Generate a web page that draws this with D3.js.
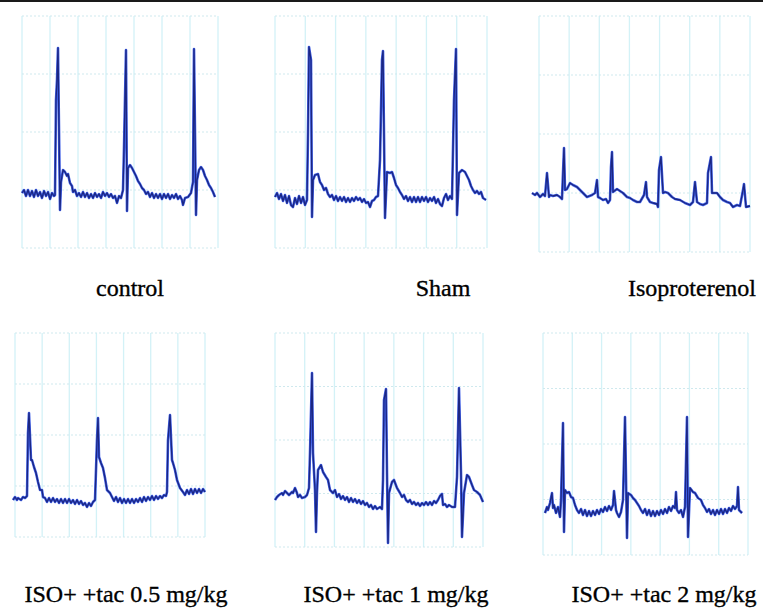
<!DOCTYPE html>
<html>
<head>
<meta charset="utf-8">
<script src="https://cdn.jsdelivr.net/npm/d3@7"></script>
<style>
  html, body { margin: 0; padding: 0; background: #ffffff; }
  svg { display: block; }
</style>
</head>
<body>
<svg id="chart" width="763" height="609"></svg>
<script>
// ---------------- DATA ----------------
// Panel titles
const panelTitles = ["control", "Sham", "Isoproterenol",
  "ISO+ +tac 0.5 mg/kg", "ISO+ +tac 1 mg/kg", "ISO+ +tac 2 mg/kg"];

// ECG traces: [time (samples), amplitude (a.u.)]
const traceControl = [
  [0,55],[2,58],[4,52],[6,58],[8,52],[10,57],[12,51],[14,58],[16,52],[18,56],[20,50],[22,57],[24,52],[26,56],[28,49],[30,55],[32,52],
  [33,53],[34,148],[35,168],[36,200],[38,38],[39,66],[41,78],[43,76],[45,72],[46,74],[48,65],[50,62],[51,56],[53,58],[55,52],[57,55],
  [59,51],[61,56],[63,51],[65,55],[67,50],[69,54],[71,50],[73,55],[75,51],[77,54],[79,50],[81,56],[83,52],[85,55],[87,51],[89,54],
  [91,50],[93,52],[95,45],[97,52],[99,50],[101,58],[102,100],[104,198],[105,37],[106,80],[108,83],[110,80],[112,76],[114,72],[116,67],
  [118,64],[120,60],[122,58],[124,54],[126,56],[128,51],[130,55],[132,50],[134,54],[136,50],[138,54],[140,49],[142,54],[144,50],[146,54],
  [148,49],[150,53],[152,50],[154,54],[156,49],[158,52],[160,48],[161,43],[163,50],[166,51],[169,55],[171,66],[172,199],[174,33],[175,68],
  [177,78],[179,81],[181,78],[183,72],[185,68],[187,63],[189,60],[191,56],[193,51]
];
const traceSham = [
  [0,51],[2,55],[4,49],[6,54],[8,47],[10,53],[12,45],[14,52],[16,43],[18,41],[20,50],[22,44],[24,52],[26,45],[28,51],[30,43],[32,48],
  [33,115],[34,201],[36,188],[37,31],[38,68],[40,73],[43,74],[45,66],[47,63],[49,58],[51,60],[53,54],[55,51],[57,53],[59,48],[61,52],
  [63,47],[65,51],[67,47],[69,51],[71,46],[73,50],[75,46],[77,50],[79,47],[81,51],[83,48],[85,50],[87,46],[89,49],[91,45],[93,46],
  [95,41],[97,47],[99,48],[101,51],[103,52],[105,88],[107,188],[108,197],[110,30],[112,76],[115,75],[117,76],[119,70],[121,63],[123,60],
  [125,56],[127,53],[129,49],[131,52],[133,47],[135,51],[137,46],[139,51],[141,46],[143,51],[145,46],[147,51],[149,47],[151,51],[153,46],
  [155,50],[157,47],[159,51],[161,45],[163,49],[165,44],[167,42],[169,50],[171,54],[173,48],[175,52],[177,49],[179,148],[181,199],
  [182,33],[184,75],[187,78],[190,76],[192,72],[194,68],[196,62],[198,58],[200,55],[202,57],[204,54],[206,56],[208,50],[211,48]
];
const traceIso = [
  [-7,59],[-4,57],[-2,59],[1,55],[4,58],[6,56],[8,79],[10,55],[11,57],[14,56],[18,57],[21,55],[23,53],[24,79],[25,104],[26,62],[28,63],
  [31,69],[34,67],[38,65],[41,62],[44,59],[48,55],[53,57],[56,59],[58,72],[59,55],[61,54],[64,52],[67,53],[69,49],[71,52],[72,85],
  [73,100],[74,60],[78,63],[81,61],[84,59],[88,55],[91,54],[94,52],[98,50],[101,50],[105,57],[107,70],[108,55],[111,50],[114,49],
  [118,48],[119,45],[120,82],[122,95],[124,59],[126,60],[129,59],[133,55],[136,53],[141,52],[146,49],[151,47],[154,50],[156,70],[158,50],
  [161,48],[164,47],[168,49],[169,79],[172,95],[173,59],[178,59],[181,55],[184,52],[188,50],[191,49],[194,45],[198,47],[201,46],
  [204,62],[205,68],[207,45],[211,46]
];
const traceTac05 = [
  [-2,37],[0,40],[2,37],[3,39],[6,37],[8,40],[10,39],[12,41],[13,104],[14,124],[16,77],[17,77],[19,70],[21,64],[23,55],[25,47],[27,47],
  [28,40],[30,39],[32,35],[34,39],[36,35],[38,39],[40,35],[42,38],[44,34],[46,38],[48,34],[50,38],[52,34],[54,38],[56,34],[58,37],
  [60,33],[62,37],[64,33],[66,36],[68,32],[70,34],[72,30],[74,34],[76,31],[78,35],[80,37],[82,97],[83,119],[84,80],[86,74],[88,69],
  [90,59],[92,47],[95,44],[97,40],[99,36],[101,40],[103,35],[105,39],[107,34],[109,38],[111,34],[113,38],[115,34],[117,38],[119,34],
  [121,38],[123,35],[125,39],[127,35],[129,40],[131,36],[133,40],[135,37],[137,41],[139,37],[141,41],[143,38],[145,41],[147,39],
  [149,42],[151,41],[152,45],[153,97],[155,122],[157,77],[158,74],[160,67],[162,57],[165,49],[168,45],[170,42],[172,47],[174,43],
  [176,48],[178,43],[180,48],[182,44],[184,48],[186,44],[188,48],[190,45]
];
const traceTac1 = [
  [0,47],[2,50],[4,52],[7,54],[8,52],[10,56],[12,54],[14,52],[17,55],[18,54],[20,59],[22,54],[23,50],[25,52],[27,49],[30,50],[32,52],
  [34,59],[35,94],[37,174],[38,94],[40,57],[41,15],[42,55],[43,77],[46,82],[48,75],[51,70],[53,67],[55,57],[58,54],[60,57],[62,50],
  [64,53],[66,48],[68,51],[70,47],[72,50],[74,45],[76,49],[78,45],[80,48],[82,44],[84,47],[86,43],[88,46],[90,42],[92,44],[94,40],
  [96,42],[98,38],[100,41],[102,38],[105,40],[107,38],[108,67],[109,147],[111,158],[112,74],[113,4],[114,54],[117,65],[119,67],[122,59],
  [125,54],[127,50],[129,52],[131,47],[133,45],[135,47],[137,43],[139,45],[141,42],[143,44],[145,41],[147,44],[149,42],[151,45],
  [153,42],[155,45],[157,42],[159,46],[161,44],[163,47],[165,51],[167,53],[168,42],[170,43],[172,40],[174,42],[177,40],[180,40],
  [182,70],[184,159],[186,74],[187,10],[189,54],[192,72],[194,70],[197,62],[199,57],[202,55],[205,52],[208,45]
];
const traceTac2 = [
  [2,42],[4,48],[5,45],[7,52],[9,62],[10,47],[11,50],[13,42],[15,48],[17,38],[18,55],[20,132],[21,23],[22,65],[24,62],[26,63],[28,58],
  [30,57],[32,50],[34,45],[36,42],[38,46],[40,40],[42,45],[44,39],[46,44],[48,39],[50,44],[52,40],[54,45],[56,41],[58,46],[60,43],
  [62,48],[64,44],[66,49],[68,45],[70,50],[71,64],[73,45],[74,42],[76,38],[78,43],[80,55],[82,138],[84,17],[85,62],[88,60],[90,57],
  [92,55],[94,52],[96,49],[98,45],[100,42],[102,46],[104,40],[106,45],[108,39],[110,44],[112,39],[114,44],[116,40],[118,45],[120,41],
  [122,46],[124,42],[126,48],[128,44],[130,49],[132,47],[133,63],[134,45],[136,42],[138,45],[140,38],[142,48],[144,138],[145,18],
  [147,67],[150,63],[152,62],[155,57],[158,55],[160,50],[162,47],[164,43],[166,46],[168,41],[170,45],[172,40],[174,45],[176,41],
  [178,46],[180,41],[182,46],[184,42],[186,47],[188,44],[190,49],[192,46],[194,49],[195,68],[196,45],[199,42]
];
const traces = [traceControl, traceSham, traceIso, traceTac05, traceTac1, traceTac2];

// ---------------- LAYOUT ----------------
const layout = [
  { x0: 22,  x1: 218, y0: 16,  y1: 248, cols: 7, rows: 4, lx: 130, ly: 296 },
  { x0: 275, x1: 487, y0: 16,  y1: 248, cols: 7, rows: 4, lx: 443, ly: 296 },
  { x0: 539, x1: 750, y0: 16,  y1: 252, cols: 7, rows: 4, lx: 692, ly: 296 },
  { x0: 15,  x1: 205, y0: 333, y1: 537, cols: 7, rows: 4, lx: 126, ly: 602 },
  { x0: 275, x1: 483, y0: 333, y1: 547, cols: 7, rows: 4, lx: 396, ly: 602 },
  { x0: 543, x1: 748, y0: 333, y1: 555, cols: 7, rows: 4, lx: 664, ly: 602 }
];

const svg = d3.select("#chart");
svg.append("rect").attr("x", 0).attr("y", 0).attr("width", 763).attr("height", 609).attr("fill", "#ffffff");
svg.append("rect").attr("x", 0).attr("y", 0).attr("width", 763).attr("height", 2).attr("fill", "#1a1a1a");

layout.forEach((L, i) => {
  const W = L.x1 - L.x0, H = L.y1 - L.y0;
  const x = d3.scaleLinear().domain([0, W]).range([L.x0, L.x1]);
  const y = d3.scaleLinear().domain([0, H]).range([L.y1, L.y0]);
  const g = svg.append("g");

  const xt = d3.range(L.cols + 1).map(k => k * W / L.cols);
  const yt = d3.range(L.rows + 1).map(k => k * H / L.rows);

  g.selectAll("line.v").data(xt).join("line")
    .attr("x1", d => x(d)).attr("x2", d => x(d))
    .attr("y1", y(0)).attr("y2", y(H))
    .attr("stroke", "#d3f2f7").attr("stroke-width", 1.3);
  g.selectAll("line.h").data(yt).join("line")
    .attr("x1", x(0)).attr("x2", x(W))
    .attr("y1", d => y(d)).attr("y2", d => y(d))
    .attr("stroke", "#cfe9ee").attr("stroke-width", 1)
    .attr("stroke-dasharray", "2,2");

  const line = d3.line().x(d => x(d[0])).y(d => y(d[1]));
  g.append("path").datum(traces[i]).attr("d", line)
    .attr("fill", "none").attr("stroke", "#3f5fe6").attr("stroke-width", 2.6)
    .attr("stroke-linejoin", "round");
  g.append("path").datum(traces[i]).attr("d", line)
    .attr("fill", "none").attr("stroke", "#1b2682").attr("stroke-width", 1.3)
    .attr("stroke-linejoin", "round");

  svg.append("text")
    .attr("x", L.lx).attr("y", L.ly)
    .attr("text-anchor", "middle")
    .attr("font-family", "'Liberation Serif', 'Times New Roman', serif")
    .attr("font-size", 24)
    .attr("fill", "#000")
    .attr("stroke", "#000").attr("stroke-width", 0.35)
    .text(panelTitles[i]);
});
</script>
</body>
</html>
